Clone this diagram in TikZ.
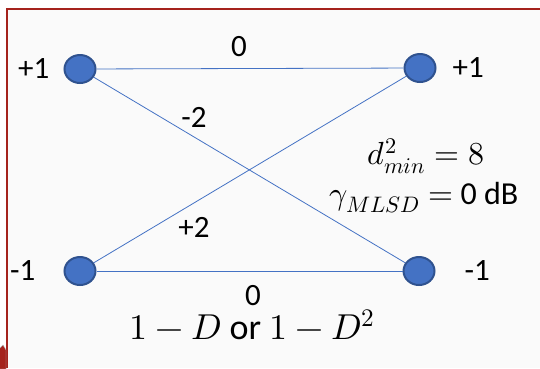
\documentclass[tikz,border=0pt]{standalone}
\usepackage{fontspec}
\usepackage{unicode-math}
\setmainfont{Carlito}
\setmathfont{Latin Modern Math}
\usetikzlibrary{shapes.geometric, positioning}
\definecolor{nodeblue}{HTML}{4472C4}
\definecolor{nodeedge}{HTML}{2F528F}
\definecolor{framered}{HTML}{A5231D}
\definecolor{panelgray}{HTML}{FAFAFA}

\begin{document}
\begin{tikzpicture}[x=1pt, y=-1pt,
    state/.style={ellipse, draw=nodeedge, fill=nodeblue, line width=2pt, minimum width=31pt, minimum height=28pt, inner sep=0pt},
    branch/.style={draw=nodeblue, line width=0.8pt},
    lbl/.style={font=\fontsize{31}{34}\selectfont, inner sep=0pt},
    big/.style={font=\fontsize{32}{35}\selectfont, inner sep=0pt}]
    \useasboundingbox (0,0) rectangle (540,368);
    \fill[white] (0,0) rectangle (540,368);
    \fill[panelgray] (7,8.5) rectangle (540,368);
    \draw[framered, line width=2pt] (7,368) -- (7,8.5) -- (540,8.5);
    \filldraw[framered, draw=gray!60] (-1,349) -- (3,345) -- (6,350) -- (6,369) -- (-1,369) -- cycle;

    % trellis states
    \node[state] (pl) at (80,69) {};
    \node[state] (pr) at (420,68) {};
    \node[state] (ml) at (80,271) {};
    \node[state] (mr) at (419,271) {};

    \node[lbl, left=14pt of pl] (tpl) {+1};
    \node[lbl, right=16pt of pr] (tpr) {+1};
    \node[lbl, left=28pt of ml] (tml) {-1};
    \node[lbl, right=29pt of mr] (tmr) {-1};

    % branches
    \draw[branch] (pl) -- (pr);
    \draw[branch] (pl) -- (mr);
    \draw[branch] (ml) -- (pr);
    \draw[branch] (ml) -- (mr);

    \node[lbl] (w1) at (239,47) {0};
    \node[lbl] (w2) at (194,117) {-2};
    \node[lbl] (w3) at (194,227) {+2};
    \node[lbl] (w4) at (253,296) {0};

    \node[big] (dmin) at (426,156) {$d^2_{min} = 8$};
    \node[big] (gain) at (424,198) {$\gamma_{MLSD} =$ 0 dB};
    \node[font=\fontsize{36}{40}\selectfont, inner sep=0pt] (poly) at (252,325) {$1-D$ or $1-D^2$};
\end{tikzpicture}
\end{document}
